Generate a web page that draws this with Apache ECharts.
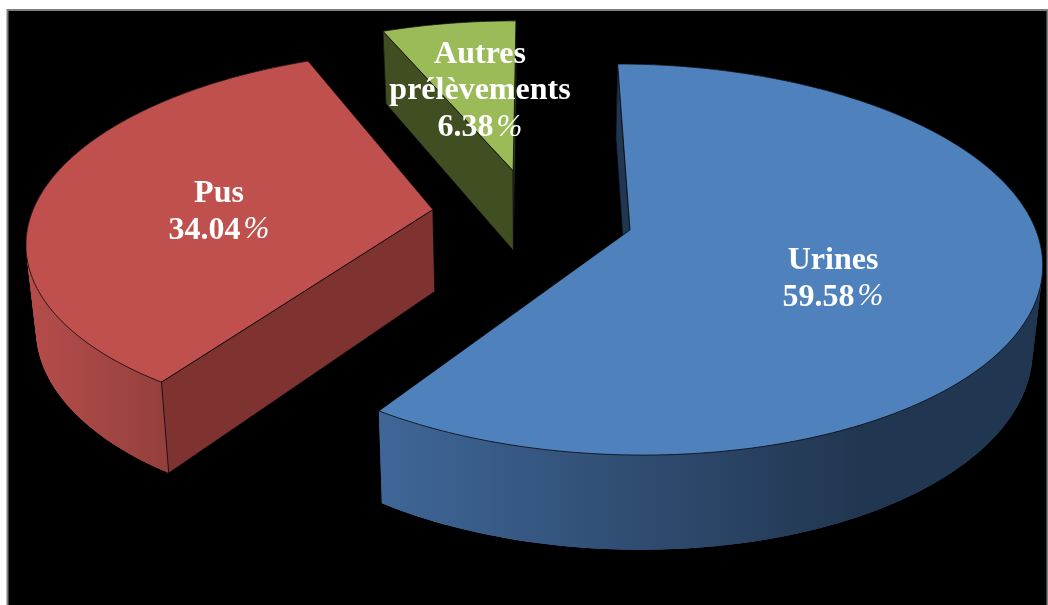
<!DOCTYPE html>
<html>
<head>
<meta charset="utf-8">
<style>html,body{margin:0;padding:0;background:#fff;overflow:hidden}#chart{width:1048px;height:605px}</style>
<script src="https://cdn.jsdelivr.net/npm/echarts@6/dist/echarts.min.js"></script>
</head>
<body>
<div id="chart"></div>
<script>
// Sample types and their shares, in percent
const categories = ['Urines', 'Pus', 'Autres prélèvements'];
const shares = [59.58, 34.04, 6.38];
const labelLines = [['Urines'], ['Pus'], ['Autres', 'prélèvements']];

// Slice styling
const topColors = ['#4f81bd', '#c0504d', '#9bbb59'];
const wallGradients = [
  { left: '#3f6697', right: '#213650', from: 385, to: 860 },
  { left: '#b54d4a', right: '#943f3c', from: 30, to: 170 },
  { left: '#404e22', right: '#404e22', from: 380, to: 520 }
];
const flatWallColors = ['#213650', '#7e3331', '#404e22'];

// Layout of the tilted pie: pie-plane radius, tilt, perspective and depth
const origin = { x: 630, y: 230 };
const radiusX = 408;
const radiusY = 191;
const perspective = 0.151;
const roll = 6;
const firstAngle = -2;
const explode = [[0, 0], [-0.49, -0.093], [-0.3, -0.315]];
const sliceScale = [1, 0.987, 0.985];
const labelCenters = [[833, 279], [219, 212], [480, 91]];
const labelLineHeight = 36.5;

// Maps a point of the pie plane to the screen (v grows towards the viewer)
function project(u, v) {
  const w = 1 - perspective * v;
  return [origin.x + radiusX * u / w, origin.y + (radiusY * v + roll * u) / w];
}

// The same point on the underside of the slab
function drop(p) {
  return [p[0] + 0.0197 * (530 - p[0]), p[1] + 71 + 0.052 * p[1]];
}

function arcPoints(i, a0, a1) {
  const pts = [];
  const n = Math.max(8, Math.ceil(Math.abs(a1 - a0)));
  for (let k = 0; k <= n; k++) {
    const a = (a0 + (a1 - a0) * k / n) * Math.PI / 180;
    pts.push(project(
      explode[i][0] + sliceScale[i] * Math.sin(a),
      explode[i][1] - sliceScale[i] * Math.cos(a)
    ));
  }
  return pts;
}

function face(points, fill) {
  return {
    type: 'polygon',
    shape: { points: points },
    style: { fill: fill, stroke: '#07090d', lineWidth: 0.8, lineJoin: 'round' }
  };
}

function sideGradient(i) {
  const g = wallGradients[i];
  return new echarts.graphic.LinearGradient(g.from, 0, g.to, 0, [
    { offset: 0, color: g.left },
    { offset: 1, color: g.right }
  ], true);
}

// The rim: one band between the two arcs, plus overlapping quads that fill out
// the tangent edges where the band pinches at the sides
function rimShapes(i, arc) {
  const fill = sideGradient(i);
  const lower = arc.map(drop);
  const shapes = [{
    type: 'polygon',
    shape: { points: arc.concat(lower.slice().reverse()) },
    style: { fill: fill }
  }];
  for (let k = 0; k < arc.length - 2; k++) {
    shapes.push({
      type: 'polygon',
      shape: { points: [arc[k], arc[k + 2], lower[k + 2], lower[k]] },
      style: { fill: fill }
    });
  }
  return shapes;
}

// A cut wall shows when its depth runs away from the slice's own top face
function wallFacesViewer(apex, corner, inside) {
  const ex = corner[0] - apex[0];
  const ey = corner[1] - apex[1];
  const d = drop(apex);
  const side = ex * (d[1] - apex[1]) - ey * (d[0] - apex[0]);
  const interior = ex * (inside[1] - apex[1]) - ey * (inside[0] - apex[0]);
  return side * interior < 0;
}

const total = shares.reduce((s, v) => s + v, 0);

function renderSlice(params, api) {
  const i = params.dataIndex;
  const value = api.value(0);
  const before = shares.slice(0, i).reduce((s, v) => s + v, 0);
  const a0 = firstAngle + before / total * 360;
  const a1 = a0 + value / total * 360;

  const apex = project(explode[i][0], explode[i][1]);
  const arc = arcPoints(i, a0, a1);
  const first = arc[0];
  const last = arc[arc.length - 1];
  const middle = arc[Math.floor(arc.length / 2)];

  const children = rimShapes(i, arc);
  if (wallFacesViewer(apex, first, middle)) {
    children.push(face([first, drop(first), drop(apex), apex], flatWallColors[i]));
  }
  if (wallFacesViewer(apex, last, middle)) {
    children.push(face([last, drop(last), drop(apex), apex], flatWallColors[i]));
  }
  children.push(face([apex].concat(arc), topColors[i]));

  const c = labelCenters[i];
  const lines = labelLines[i].map(t => '{name|' + t + '}')
    .concat('{num|' + value.toFixed(2) + '}{pct|%}');
  children.push({
    type: 'text',
    x: c[0],
    y: c[1],
    style: {
      text: lines.join('\n'),
      align: 'center',
      verticalAlign: 'middle',
      fill: '#ffffff',
      rich: {
        name: { font: 'bold 32px "Liberation Serif"', fill: '#ffffff', lineHeight: labelLineHeight },
        num: { font: 'bold 32px "Liberation Serif"', fill: '#ffffff', lineHeight: labelLineHeight },
        pct: { font: 'italic 31px "Liberation Serif"', fill: '#ffffff', lineHeight: labelLineHeight, padding: [0, 0, 0, 3] }
      }
    }
  });

  return { type: 'group', children: children };
}

const chart = echarts.init(document.getElementById('chart'), null, { renderer: 'canvas' });
chart.setOption({
  animation: false,
  backgroundColor: '#ffffff',
  graphic: [{
    type: 'rect',
    z: -1,
    shape: { x: 7.5, y: 10, width: 1040, height: 600 },
    style: { fill: '#000000', stroke: '#7f7f7f', lineWidth: 2 }
  }],
  series: [{
    type: 'custom',
    coordinateSystem: 'none',
    clip: false,
    data: shares.map((v, i) => ({ name: categories[i], value: [v] })),
    renderItem: renderSlice
  }]
});
</script>
</body>
</html>
